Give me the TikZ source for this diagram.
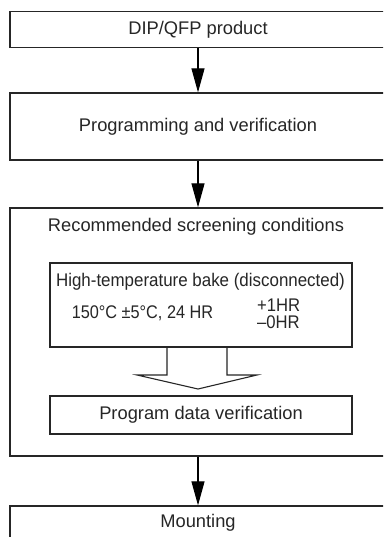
\documentclass[tikz,border=0pt]{standalone}
\usepackage{fontspec}
\setmainfont{Liberation Sans}
\usetikzlibrary{arrows.meta}
\begin{document}
\begin{tikzpicture}[x=1pt,y=-1pt,
  every node/.style={font=\fontsize{18.3}{20}\selectfont, text=black!85},
  outerbox/.style={draw=black!85, line width=1.3pt, minimum width=376pt, inner sep=0pt},
  innerbox/.style={draw=black!85, line width=1.3pt, minimum width=302pt, inner sep=0pt},
  tol/.style={inner sep=0pt, anchor=west},
  flow/.style={draw=black, line width=1.1pt, -{Triangle[length=24pt,width=13pt]}}]
\clip (0,0) rectangle (383,537);
\fill[white] (0,0) rectangle (383,537);
% outer boxes
\node[outerbox, minimum height=36pt] (b1) at (198,29.7) {DIP/QFP product};
\node[outerbox, minimum height=67pt] (b2) at (198,126.5) {Programming and verification};
\node[outerbox, minimum height=248pt] (b3) at (198,332) {};
\node (t3) at (196,227) {Recommended screening conditions};
\node[outerbox, minimum height=34pt] (b4) at (198,523) {Mounting};
% inner boxes
\node[innerbox, minimum height=84pt] (bake) at (201,305) {};
\node (baket) at (200.5,282) {\scalebox{0.925}[1]{High-temperature bake (disconnected)}};
\node (bakec) at (142.5,313) {\scalebox{0.89}[1]{150°C ±5°C, 24 HR}};
\node[tol] (tolp) at (257,305.5) {\scalebox{0.91}[1]{+1HR}};
\node[tol] (tolm) at (257,322) {\scalebox{0.91}[1]{–0HR}};
\node[innerbox, minimum height=38pt] (ver) at (201,415) {Program data verification};
% flow arrows
\draw[flow] (b1.south -| 198,0) -- (b2.north -| 198,0);
\draw[flow] (b2.south -| 198,0) -- (b3.north -| 198,0);
\draw[flow] (b3.south -| 198,0) -- (b4.north -| 198,0);
% hollow arrow from bake to verification
\draw[draw=black!85, line width=1.1pt, line join=miter]
  (bake.south -| 167,0) -- (167,375) -- (137,375) -- (198,389) -- (257,375) -- (227,375) -- (bake.south -| 227,0);
\end{tikzpicture}
\end{document}
